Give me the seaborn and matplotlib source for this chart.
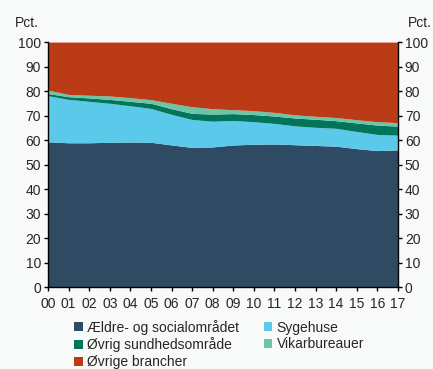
import numpy as np
import matplotlib
matplotlib.use("Agg")
import matplotlib.pyplot as plt
import seaborn as sns
from matplotlib.patches import Patch

# Data (pct. of employment)
years = ["00", "01", "02", "03", "04", "05", "06", "07", "08",
         "09", "10", "11", "12", "13", "14", "15", "16", "17"]
aeldre = [59.3, 58.9, 58.9, 59.1, 59.2, 59.1, 58.0, 57.0, 57.2,
          58.0, 58.3, 58.4, 58.1, 57.8, 57.5, 56.5, 55.7, 56.0]
sygehuse = [18.8, 17.7, 16.9, 15.9, 14.8, 13.8, 12.5, 11.4, 10.5,
            10.0, 9.2, 8.4, 7.7, 7.4, 7.3, 7.0, 6.6, 6.0]
oevrig_sund = [0.9, 1.1, 1.4, 1.6, 1.8, 2.1, 2.3, 2.5, 2.9,
               2.8, 2.9, 3.0, 3.2, 3.3, 3.1, 3.5, 3.8, 3.7]
vikar = [1.4, 0.9, 1.1, 1.4, 1.5, 1.5, 2.2, 2.7, 2.2,
         1.6, 1.6, 1.5, 1.3, 1.2, 1.3, 1.3, 1.4, 1.4]
oevrige = [100 - a - b - c - d for a, b, c, d in zip(aeldre, sygehuse, oevrig_sund, vikar)]

labels = ["Ældre- og socialområdet", "Sygehuse", "Øvrig sundhedsområde",
          "Vikarbureauer", "Øvrige brancher"]
colors = ["#2e4b63", "#5bc9ea", "#00755a", "#6cc5a6", "#bc3b17"]

sns.set_style("white")
plt.rcParams["font.family"] = ["Liberation Sans", "DejaVu Sans"]
fs = 10

bg = "#f8f9f9"
fig = plt.figure(figsize=(4.33, 3.69), dpi=100, facecolor=bg)
ax = fig.add_axes([0.111, 0.222, 0.808, 0.664])
ax.set_facecolor(bg)

x = np.arange(len(years))
ax.stackplot(x, aeldre, sygehuse, oevrig_sund, vikar, oevrige,
             colors=colors, linewidth=0)

ax.set_xlim(0, len(years) - 1)
ax.set_ylim(0, 100)
ax.set_xticks(x)
ax.set_xticklabels(years)
ax.set_yticks(range(0, 101, 10))

ax.spines["top"].set_visible(False)
for s in ["left", "right", "bottom"]:
    ax.spines[s].set_color("black")
    ax.spines[s].set_linewidth(1.0)

ax.tick_params(axis="both", direction="out", length=3, width=1, color="black",
               labelsize=fs, pad=2)
ax.tick_params(axis="y", left=True, right=True, labelleft=True, labelright=True)
ax.tick_params(axis="x", bottom=True, pad=4)

fig.text(0.035, 0.918, "Pct.", fontsize=fs, ha="left", va="bottom")
fig.text(0.998, 0.918, "Pct.", fontsize=fs, ha="right", va="bottom")

order = [0, 2, 4, 1, 3]
handles = [Patch(facecolor=colors[i], edgecolor="none") for i in order]
fig.legend(handles, [labels[i] for i in order], ncol=2, loc="upper left",
           bbox_to_anchor=(0.172, 0.134), frameon=False, fontsize=fs,
           handlelength=0.6, handleheight=0.6, handletextpad=0.3,
           columnspacing=1.8, labelspacing=0.2, borderaxespad=0,
           borderpad=0)

fig.savefig("out.png", dpi=100, facecolor=bg)
